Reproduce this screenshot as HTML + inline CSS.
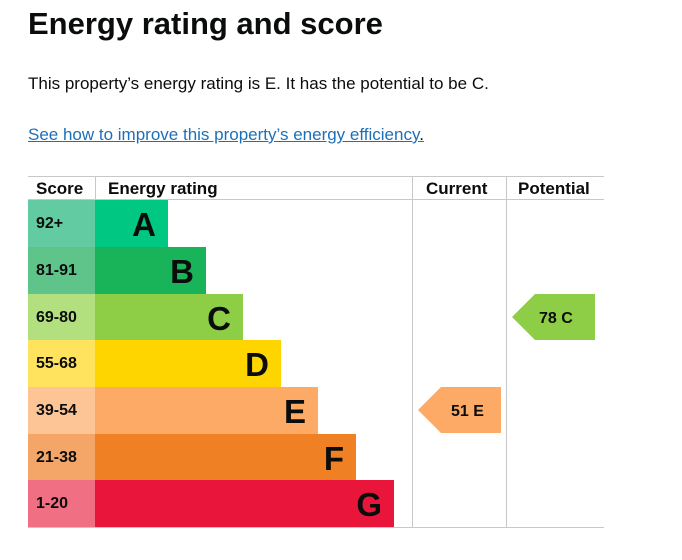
<!DOCTYPE html><html><head><style>
body{margin:0;width:682px;height:560px;background:#fff;font-family:"Liberation Sans",Arial,sans-serif;color:#0b0c0c;position:relative;overflow:hidden}
.a{position:absolute}
h1{position:absolute;left:28px;top:6px;margin:0;font-size:31px;font-weight:bold}
.p{left:28px;top:74px;font-size:17px}
.l{left:28px;top:125px;font-size:17px;color:#1d70b8;text-decoration:underline}
.hd{font-weight:bold;font-size:17px;top:179px}
.sc{left:28px;width:67px;height:47px;font-weight:bold;font-size:16px;line-height:47px;box-sizing:border-box;padding-left:8px}
.bar{left:95px;height:47px;font-weight:bold;font-size:33px;line-height:50px;text-align:right;box-sizing:border-box;padding-right:12px;color:#0b0c0c}
.ln{background:#c8c8c8}
</style></head><body>
<h1>Energy rating and score</h1>
<div class="a p">This property’s energy rating is E. It has the potential to be C.</div>
<div class="a l">See how to improve this property’s energy efficiency<span style="color:#0b0c0c;text-decoration:none">.</span></div>
<div class="a ln" style="left:28px;top:176px;width:576px;height:1px"></div>
<div class="a ln" style="left:28px;top:199px;width:576px;height:1px"></div>
<div class="a ln" style="left:28px;top:527px;width:576px;height:1px"></div>
<div class="a ln" style="left:95px;top:176px;width:1px;height:23px"></div>
<div class="a ln" style="left:412px;top:176px;width:1px;height:351px"></div>
<div class="a ln" style="left:506px;top:176px;width:1px;height:351px"></div>
<div class="a hd" style="left:36px">Score</div>
<div class="a hd" style="left:108px">Energy rating</div>
<div class="a hd" style="left:426px">Current</div>
<div class="a hd" style="left:518px">Potential</div>

<div class="a sc" style="top:200px;background:#63cba1">92+</div>
<div class="a bar" style="top:200px;width:73px;background:#00c781">A</div>
<div class="a sc" style="top:247px;background:#5fc48a">81-91</div>
<div class="a bar" style="top:247px;width:111px;background:#19b459">B</div>
<div class="a sc" style="top:294px;background:#b3e07f">69-80</div>
<div class="a bar" style="top:294px;width:148px;background:#8dce46">C</div>
<div class="a sc" style="top:340px;background:#ffe35f">55-68</div>
<div class="a bar" style="top:340px;width:186px;background:#ffd500">D</div>
<div class="a sc" style="top:387px;background:#fdc596">39-54</div>
<div class="a bar" style="top:387px;width:223px;background:#fcaa65">E</div>
<div class="a sc" style="top:434px;background:#f3a668">21-38</div>
<div class="a bar" style="top:434px;width:261px;background:#ef8023">F</div>
<div class="a sc" style="top:480px;background:#f06f83">1-20</div>
<div class="a bar" style="top:480px;width:299px;height:47px;background:#e9153b">G</div>

<svg class="a" style="left:0;top:0" width="682" height="560">
<polygon points="418,410 441,387 501,387 501,433 441,433" fill="#fcaa65"/>
<polygon points="512,317 535,294 595,294 595,340 535,340" fill="#8dce46"/>
<text x="451" y="416" font-family="Liberation Sans" font-weight="bold" font-size="16" fill="#0b0c0c">51  E</text>
<text x="539" y="323" font-family="Liberation Sans" font-weight="bold" font-size="16" fill="#0b0c0c">78  C</text>
</svg>
</body></html>
